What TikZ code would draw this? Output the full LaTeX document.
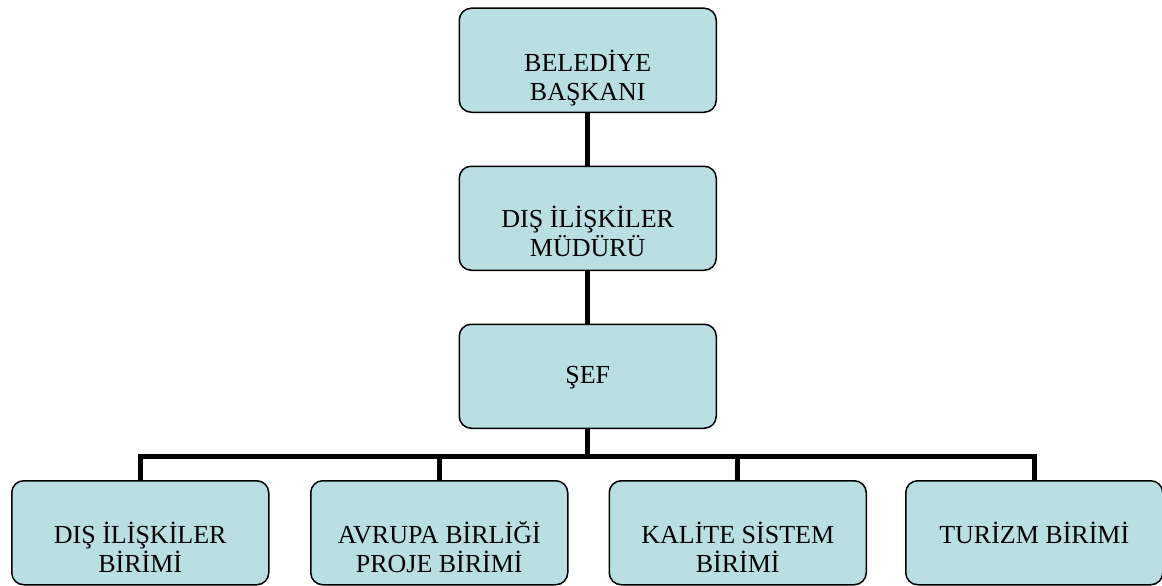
\documentclass[tikz,border=0pt]{standalone}
\usepackage{fontspec}
\setmainfont{Liberation Serif}
\usetikzlibrary{calc}
\definecolor{boxfill}{RGB}{185,223,227}
\begin{document}
\begin{tikzpicture}[x=1pt,y=-1pt,
  orgbox/.style={draw=black,line width=1.5pt,fill=boxfill,rounded corners=12pt,
    minimum width=257pt,minimum height=104pt,inner sep=0pt,anchor=north west},
  lbl/.style={font=\fontsize{26}{29}\selectfont,align=center,anchor=base,inner sep=0pt},
  conn/.style={line width=5pt,line join=miter}]
\useasboundingbox (0,0) rectangle (1162,586);
% boxes
\node[orgbox] (bb) at (458.5,7.5) {};
\node[orgbox] (dm) at (458.5,165.5) {};
\node[orgbox] (sef) at (458.5,323.5) {};
\node[orgbox] (c1) at (11,480) {};
\node[orgbox] (c2) at (310,480) {};
\node[orgbox] (c3) at (608.5,480) {};
\node[orgbox] (c4) at (905,480) {};
% texts (base = baseline of the last line)
\node[lbl] (t1) at ($(bb.north)+(0,93)$) {BELEDİYE\\BAŞKANI};
\node[lbl] (t2) at ($(dm.north)+(0,91)$) {DIŞ İLİŞKİLER\\MÜDÜRÜ};
\node[lbl,anchor=center] (t3) at ($(sef.center)+(0,1)$) {ŞEF};
\node[lbl] (t4) at ($(c1.north)+(0,92)$) {DIŞ İLİŞKİLER\\BİRİMİ};
\node[lbl] (t5) at ($(c2.north)+(0,92)$) {AVRUPA BİRLİĞİ\\PROJE BİRİMİ};
\node[lbl] (t6) at ($(c3.north)+(0,92)$) {KALİTE SİSTEM\\BİRİMİ};
\node[lbl,anchor=center] (t7) at ($(c4.center)+(0,0)$) {TURİZM BİRİMİ};
% connectors
\draw[conn] (bb.south) -- (dm.north);
\draw[conn] (dm.south) -- (sef.north);
\coordinate (busy) at (0,456);
\draw[conn] (sef.south) -- (sef.south |- busy);
\draw[conn] (c1.north) -- (c1.north |- busy) -- (c4.north |- busy) -- (c4.north);
\draw[conn] (c2.north) -- (c2.north |- busy);
\draw[conn] (c3.north) -- (c3.north |- busy);
\end{tikzpicture}
\end{document}
